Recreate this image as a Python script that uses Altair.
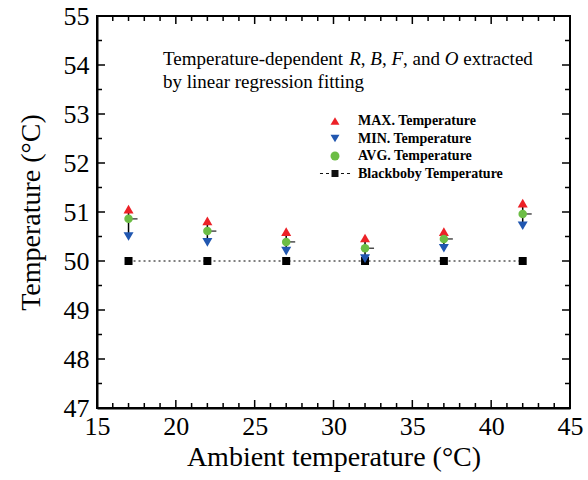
import altair as alt
import pandas as pd

# ---------------- data ----------------
ambient = [17, 22, 27, 32, 37, 42]
t_max = [51.06, 50.82, 50.60, 50.47, 50.60, 51.18]
t_min = [50.50, 50.38, 50.20, 50.05, 50.26, 50.72]
t_avg = [50.86, 50.61, 50.39, 50.26, 50.45, 50.96]
t_bb = [50.0, 50.0, 50.0, 50.0, 50.0, 50.0]

series_names = ["MAX. Temperature", "MIN. Temperature", "AVG. Temperature", "Blackboby Temperature"]
series_colors = ["#EC2127", "#2157B0", "#6CBD45", "#111111"]

x_ticks_major = [15, 20, 25, 30, 35, 40, 45]
x_ticks_minor = [16, 17, 18, 19, 21, 22, 23, 24, 26, 27, 28, 29, 31, 32, 33, 34,
                 36, 37, 38, 39, 41, 42, 43, 44]
y_ticks_major = [47, 48, 49, 50, 51, 52, 53, 54, 55]
y_ticks_minor = [47.5, 48.5, 49.5, 50.5, 51.5, 52.5, 53.5, 54.5]

# annotation text segments: (text, em offset, italic)
note_line1 = [("Temperature-dependent", 0.0, False), ("R", 9.802, True), (",", 10.413, False),
              ("B", 10.913, True), (",", 11.524, False), ("F", 12.024, True),
              (", and", 12.635, False), ("O", 14.829, True), ("extracted", 15.801, False)]
note_line2 = "by linear regression fitting"

# ---------------- layout ----------------
W, H = 473, 392
FONT = "Liberation Serif"
NOTE_SIZE = 19
NOTE_X, NOTE_Y1, NOTE_Y2 = 66, 49, 72

wide = pd.DataFrame({"ambient": ambient, "tmax": t_max, "tmin": t_min, "tavg": t_avg, "tbb": t_bb})
long = pd.DataFrame({
    "ambient": ambient * 3,
    "temp": t_max + t_min + t_avg,
    "series": [series_names[0]] * 6 + [series_names[1]] * 6 + [series_names[2]] * 6,
})

xscale = alt.Scale(domain=[15, 45], nice=False, zero=False)
yscale = alt.Scale(domain=[47, 55], nice=False, zero=False)
xaxis = alt.Axis(values=x_ticks_major, title="Ambient temperature (°C)", grid=False,
                 ticks=False, tickSize=0, labelPadding=5, titlePadding=4,
                 labelFontSize=26, titleFontSize=28, labelFlush=False)
yaxis = alt.Axis(values=y_ticks_major, title="Temperature (°C)", grid=False,
                 ticks=False, tickSize=0, labelPadding=8, titlePadding=18,
                 labelFontSize=26, titleFontSize=28)


def X(field):
    return alt.X(f"{field}:Q", scale=xscale, axis=xaxis)


def Y(field):
    return alt.Y(f"{field}:Q", scale=yscale, axis=yaxis)


bb_path = ("M-0.78,-0.78H0.78V0.78H-0.78Z "
           "M-3.36,-0.12H-2.68V0.12H-3.36Z M-2.01,-0.12H-1.34V0.12H-2.01Z "
           "M1.34,-0.12H2.01V0.12H1.34Z M2.68,-0.12H3.36V0.12H2.68Z")
series_shapes = ["triangle-up", "triangle-down", "circle", bb_path]

legend = alt.Legend(orient="none", legendX=231, legendY=98, title=None,
                    labelFont=FONT, labelFontWeight="bold", labelFontSize=14,
                    labelColor="black", symbolSize=80, symbolStrokeWidth=0,
                    rowPadding=3.5, labelOffset=16, padding=0)
color = alt.Color("series:N", scale=alt.Scale(domain=series_names, range=series_colors), legend=legend)
shape = alt.Shape("series:N", scale=alt.Scale(domain=series_names, range=series_shapes), legend=legend)

base = alt.Chart(wide)

bb_line = base.mark_line(color="black", strokeWidth=1, strokeDash=[2, 3]).encode(x=X("ambient"), y=Y("tbb"))
bb_pts = base.mark_square(color="black", size=64, opacity=1).encode(x=X("ambient"), y=Y("tbb"))
err = base.mark_rule(color="black", strokeWidth=1.5).encode(x=X("ambient"), y=Y("tmin"), y2="tmax")
avg_tick = base.mark_tick(color="black", orient="horizontal", size=6, thickness=1.5, xOffset=6).encode(
    x=X("ambient"), y=Y("tavg"))


def pts(name, size):
    return alt.Chart(long).transform_filter(alt.datum.series == name).mark_point(
        filled=True, size=size, opacity=1, strokeWidth=0).encode(
        x=X("ambient"), y=Y("temp"), color=color, shape=shape)


p_max = pts(series_names[0], 100)
p_min = pts(series_names[1], 100)
p_avg = pts(series_names[2], 72)

# inward frame ticks
def yticks(vals, length):
    d = pd.DataFrame({"v": vals})
    left = alt.Chart(d).mark_rule(color="black", strokeWidth=1.5).encode(
        y=Y("v"), x=alt.value(0), x2=alt.value(length))
    right = alt.Chart(d).mark_rule(color="black", strokeWidth=1.5).encode(
        y=Y("v"), x=alt.value(W), x2=alt.value(W - length))
    return [left, right]


def xticks(vals, length):
    d = pd.DataFrame({"v": vals})
    bottom = alt.Chart(d).mark_rule(color="black", strokeWidth=1.5).encode(
        x=X("v"), y=alt.value(H), y2=alt.value(H - length))
    top = alt.Chart(d).mark_rule(color="black", strokeWidth=1.5).encode(
        x=X("v"), y=alt.value(0), y2=alt.value(length))
    return [bottom, top]


frame = yticks(y_ticks_major, 8) + yticks(y_ticks_minor, 5) + xticks(x_ticks_major, 8) + xticks(x_ticks_minor, 5)

dummy = pd.DataFrame({"a": [0]})
notes = []
for txt, em, ital in note_line1:
    notes.append(alt.Chart(dummy).mark_text(
        font=FONT, fontSize=NOTE_SIZE, fontStyle="italic" if ital else "normal",
        align="left", baseline="alphabetic", color="black").encode(
        x=alt.value(NOTE_X + em * NOTE_SIZE), y=alt.value(NOTE_Y1), text=alt.value(txt)))
notes.append(alt.Chart(dummy).mark_text(
    font=FONT, fontSize=NOTE_SIZE, align="left", baseline="alphabetic", color="black").encode(
    x=alt.value(NOTE_X), y=alt.value(NOTE_Y2), text=alt.value(note_line2)))

chart = alt.layer(bb_line, bb_pts, err, avg_tick, p_max, p_min, p_avg, *frame, *notes).properties(
    width=W, height=H,
    autosize=alt.AutoSizeParams(type="none"),
    padding={"left": 97, "top": 16, "right": 18, "bottom": 72},
    background="white",
).configure_view(stroke="black", strokeWidth=2).configure_axis(
    labelFont=FONT, titleFont=FONT, titleFontWeight="normal", labelColor="black",
    titleColor="black", domainColor="black", domainWidth=2,
)

chart.save("out.html", embed_options={"renderer": "svg", "actions": False})
